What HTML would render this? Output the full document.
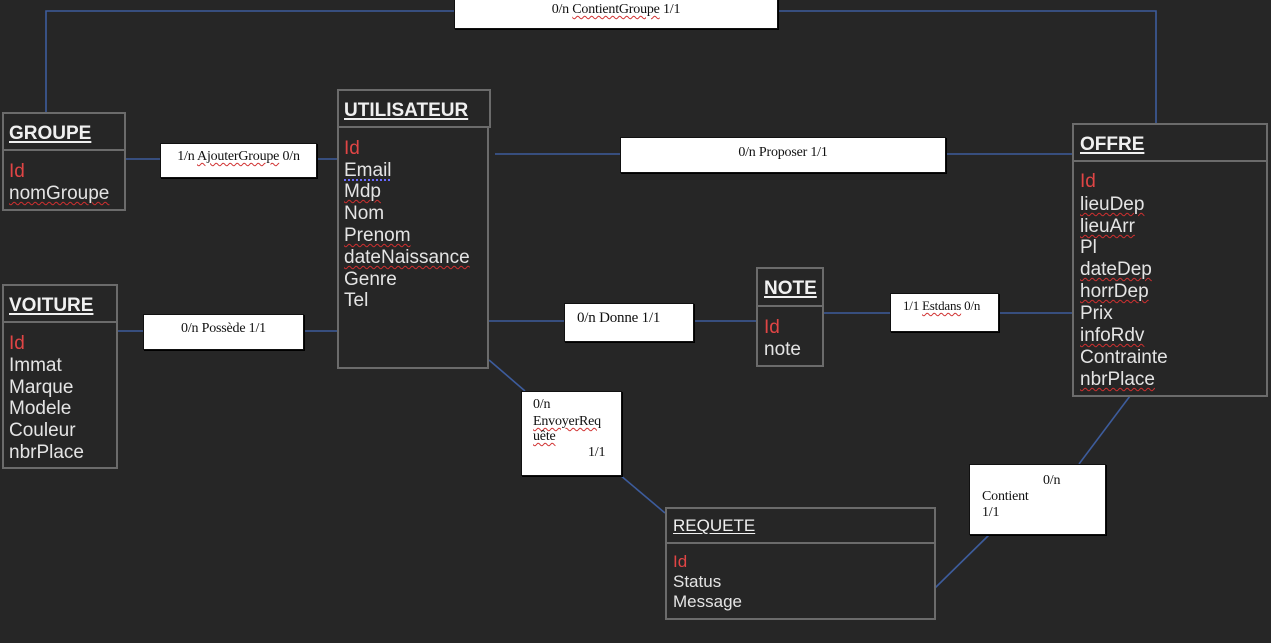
<!DOCTYPE html>
<html><head><meta charset="utf-8">
<style>
html,body{margin:0;padding:0;}
body{width:1271px;height:643px;background:#262626;position:relative;overflow:hidden;font-family:"Liberation Sans",Arial,sans-serif;}
.box{position:absolute;border:2px solid #6b6b6b;box-sizing:border-box;}
.div{position:absolute;height:0;border-top:2px solid #6b6b6b;}
.t{position:absolute;font-size:19px;line-height:22px;color:#e4e4e4;white-space:nowrap;}
.h{font-weight:bold;text-decoration:underline;text-decoration-thickness:2px;text-underline-offset:2px;color:#f0f0f0;}
.id{color:#e04545;}
.sp{text-decoration:underline wavy #d03030;text-decoration-thickness:1px;text-underline-offset:2px;}
.em{text-decoration:underline dotted #6a6aff;text-decoration-thickness:2px;text-underline-offset:3px;}
.r{position:absolute;background:#fff;border:1px solid #111;box-shadow:1px 1px 0 #000;box-sizing:border-box;}
.rt{position:absolute;font-family:"Liberation Serif","Times New Roman",serif;font-size:14px;line-height:16px;color:#111;white-space:nowrap;letter-spacing:-0.2px;}
.s{font-size:17px;line-height:20px;}
</style></head><body>
<svg width="1271" height="643" style="position:absolute;left:0;top:0" xmlns="http://www.w3.org/2000/svg">
<g stroke="#3d5c9c" stroke-width="1.6" fill="none">
<polyline points="46,112 46,11 1156,11 1156,123"/>
<line x1="125" y1="159" x2="160" y2="159"/><line x1="316" y1="159" x2="337" y2="159"/>
<line x1="495" y1="154" x2="620" y2="154"/><line x1="945" y1="154" x2="1072" y2="154"/>
<line x1="117" y1="331" x2="143" y2="331"/><line x1="303" y1="331" x2="337" y2="331"/>
<line x1="488" y1="321" x2="564" y2="321"/><line x1="693" y1="321" x2="757" y2="321"/>
<line x1="823" y1="313" x2="890" y2="313"/><line x1="998" y1="313" x2="1072" y2="313"/>
<line x1="489" y1="360" x2="525" y2="391"/><line x1="620" y1="475" x2="665" y2="513"/>
<line x1="1130" y1="396" x2="1079" y2="464"/><line x1="990" y1="534" x2="935" y2="588"/>
</g></svg>

<!-- GROUPE -->
<div class="box" style="left:2px;top:112px;width:124px;height:99px;"></div>
<div class="div" style="left:2px;top:149px;width:124px;"></div>
<div class="t h" style="left:9px;top:123px;">GROUPE</div>
<div class="t id" style="left:9px;top:161px;">Id</div>
<div class="t" style="left:9px;top:183px;"><span class="sp">nomGroupe</span></div>

<!-- UTILISATEUR -->
<div class="box" style="left:337px;top:89px;width:154px;height:39px;"></div>
<div class="box" style="left:337px;top:126px;width:152px;height:243px;"></div>
<div class="t h" style="left:344px;top:100px;">UTILISATEUR</div>
<div class="t id" style="left:344px;top:138px;">Id</div>
<div class="t" style="left:344px;top:160px;"><span class="em">Email</span></div>
<div class="t" style="left:344px;top:181px;"><span class="sp">Mdp</span></div>
<div class="t" style="left:344px;top:203px;">Nom</div>
<div class="t" style="left:344px;top:225px;"><span class="sp">Prenom</span></div>
<div class="t" style="left:344px;top:247px;"><span class="sp">dateNaissance</span></div>
<div class="t" style="left:344px;top:269px;">Genre</div>
<div class="t" style="left:344px;top:290px;">Tel</div>

<!-- OFFRE -->
<div class="box" style="left:1072px;top:123px;width:196px;height:274px;"></div>
<div class="div" style="left:1072px;top:160px;width:196px;"></div>
<div class="t h" style="left:1080px;top:134px;">OFFRE</div>
<div class="t id" style="left:1080px;top:171px;">Id</div>
<div class="t" style="left:1080px;top:194px;"><span class="sp">lieuDep</span></div>
<div class="t" style="left:1080px;top:216px;"><span class="sp">lieuArr</span></div>
<div class="t" style="left:1080px;top:237px;">Pl</div>
<div class="t" style="left:1080px;top:259px;"><span class="sp">dateDep</span></div>
<div class="t" style="left:1080px;top:281px;"><span class="sp">horrDep</span></div>
<div class="t" style="left:1080px;top:303px;">Prix</div>
<div class="t" style="left:1080px;top:325px;"><span class="sp">infoRdv</span></div>
<div class="t" style="left:1080px;top:347px;">Contrainte</div>
<div class="t" style="left:1080px;top:369px;"><span class="sp">nbrPlace</span></div>

<!-- VOITURE -->
<div class="box" style="left:2px;top:284px;width:116px;height:185px;"></div>
<div class="div" style="left:2px;top:321px;width:116px;"></div>
<div class="t h" style="left:9px;top:295px;">VOITURE</div>
<div class="t id" style="left:9px;top:333px;">Id</div>
<div class="t" style="left:9px;top:355px;">Immat</div>
<div class="t" style="left:9px;top:377px;">Marque</div>
<div class="t" style="left:9px;top:398px;">Modele</div>
<div class="t" style="left:9px;top:420px;">Couleur</div>
<div class="t" style="left:9px;top:442px;">nbrPlace</div>

<!-- NOTE -->
<div class="box" style="left:756px;top:267px;width:68px;height:100px;"></div>
<div class="div" style="left:756px;top:305px;width:68px;"></div>
<div class="t h" style="left:764px;top:278px;">NOTE</div>
<div class="t id" style="left:764px;top:317px;">Id</div>
<div class="t" style="left:764px;top:339px;">note</div>

<!-- REQUETE -->
<div class="box" style="left:665px;top:507px;width:271px;height:113px;"></div>
<div class="div" style="left:665px;top:542px;width:271px;"></div>
<div class="t s" style="left:673px;top:516px;text-decoration:underline;text-underline-offset:2px;color:#f0f0f0;">REQUETE</div>
<div class="t s id" style="left:673px;top:552px;">Id</div>
<div class="t s" style="left:673px;top:572px;">Status</div>
<div class="t s" style="left:673px;top:592px;">Message</div>

<!-- Relationship boxes -->
<div class="r" style="left:454px;top:-2px;width:324px;height:31px;"></div>
<div class="rt" style="left:454px;width:324px;top:2px;text-align:center;">0/n <span class="sp">ContientGroupe</span> 1/1</div>

<div class="r" style="left:160px;top:143px;width:157px;height:35px;"></div>
<div class="rt" style="left:160px;width:157px;top:149px;text-align:center;">1/n <span class="sp">AjouterGroupe</span> 0/n</div>

<div class="r" style="left:620px;top:137px;width:326px;height:36px;"></div>
<div class="rt" style="left:620px;width:326px;top:145px;text-align:center;">0/n Proposer 1/1</div>

<div class="r" style="left:143px;top:314px;width:161px;height:36px;"></div>
<div class="rt" style="left:143px;width:161px;top:321px;text-align:center;">0/n Possède 1/1</div>

<div class="r" style="left:564px;top:303px;width:130px;height:39px;"></div>
<div class="rt" style="left:577px;top:310px;font-size:15px;line-height:17px;">0/n Donne 1/1</div>

<div class="r" style="left:890px;top:293px;width:109px;height:39px;"></div>
<div class="rt" style="left:903px;top:298px;font-size:13px;line-height:15px;">1/1 <span class="sp">Estdans</span> 0/n</div>

<div class="r" style="left:521px;top:391px;width:101px;height:85px;"></div>
<div class="rt" style="left:533px;top:397px;">0/n</div>
<div class="rt" style="left:533px;top:414px;"><span class="sp">EnvoyerReq</span></div>
<div class="rt" style="left:533px;top:429px;"><span class="sp">uête</span></div>
<div class="rt" style="left:588px;top:445px;">1/1</div>

<div class="r" style="left:969px;top:464px;width:137px;height:71px;"></div>
<div class="rt" style="left:1043px;top:473px;">0/n</div>
<div class="rt" style="left:982px;top:489px;">Contient</div>
<div class="rt" style="left:982px;top:505px;">1/1</div>
</body></html>
